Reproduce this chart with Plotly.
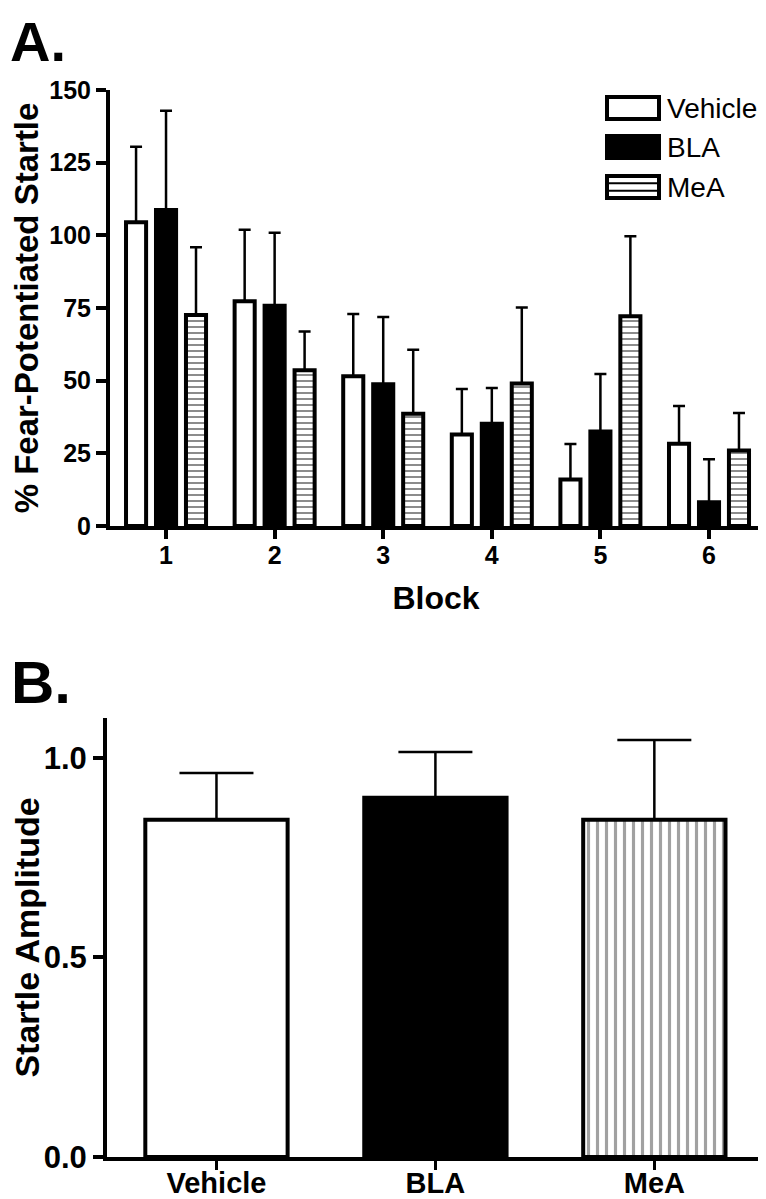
import plotly.graph_objects as go

# ---------------- data ----------------
blocks = [1, 2, 3, 4, 5, 6]
vehicle_mean = [104.5, 77.3, 51.5, 31.5, 16.0, 28.3]
vehicle_sem = [26.0, 24.6, 21.4, 15.6, 12.2, 13.0]
bla_mean = [108.7, 75.8, 48.8, 35.2, 32.5, 8.2]
bla_sem = [34.2, 25.1, 23.1, 12.3, 19.8, 14.8]
mea_mean = [72.6, 53.6, 38.6, 49.0, 72.2, 26.0]
mea_sem = [23.3, 13.3, 22.0, 26.2, 27.5, 12.9]

groups_b = ["Vehicle", "BLA", "MeA"]
startle_mean = [0.845, 0.90, 0.845]
startle_sem = [0.117, 0.115, 0.20]

a_yticks = [0, 25, 50, 75, 100, 125, 150]
b_yticks = [0.0, 0.5, 1.0]
legend_names = ["Vehicle", "BLA", "MeA"]

FONT = "Liberation Sans, Arial, sans-serif"
OFF = 8                      # page body margin
W, H = 766 - OFF, 1199 - OFF


def px(x):
    return (x - OFF) / W


def py(y):
    return 1 - (y - OFF) / H


def err(arr, n):
    return dict(type="data", array=arr, arrayminus=[0] * n, symmetric=False,
                color="black", thickness=2.5, width=6)


fig = go.Figure()
fig.add_trace(go.Bar(x=blocks, y=vehicle_mean, name="Vehicle",
                     marker=dict(color="white", line=dict(color="black", width=4)),
                     error_y=err(vehicle_sem, 6), xaxis="x", yaxis="y"))
fig.add_trace(go.Bar(x=blocks, y=bla_mean, name="BLA",
                     marker=dict(color="black", line=dict(color="black", width=4)),
                     error_y=err(bla_sem, 6), xaxis="x", yaxis="y"))
fig.add_trace(go.Bar(x=blocks, y=mea_mean, name="MeA",
                     marker=dict(color="white", line=dict(color="black", width=4),
                                 pattern=dict(shape="-", size=6, solidity=0.3,
                                              fgcolor="black", bgcolor="white")),
                     error_y=err(mea_sem, 6), xaxis="x", yaxis="y"))

fig.add_trace(go.Bar(x=groups_b, y=startle_mean, width=0.65,
                     marker=dict(color=["white", "black", "white"],
                                 line=dict(color="black", width=4),
                                 pattern=dict(shape=["", "", "|"], size=9, solidity=0.35,
                                              fgcolor="black", bgcolor="white")),
                     error_y=dict(type="data", array=startle_sem, arrayminus=[0] * 3,
                                  symmetric=False, color="black", thickness=2.5, width=37),
                     xaxis="x2", yaxis="y2"))

axis_common = dict(showgrid=False, zeroline=False, showline=True, linecolor="black",
                   linewidth=4, ticks="outside", tickcolor="black", automargin=False)

fig.update_layout(
    width=W, height=H,
    margin=dict(l=0, r=0, t=0, b=0),
    paper_bgcolor="white", plot_bgcolor="white",
    showlegend=False,
    barmode="group", bargap=0.172, bargroupgap=0.33,
    font=dict(family=FONT, color="black"),
    xaxis=dict(axis_common, domain=[px(110), px(762)], range=[0.484, 6.488],
               tickvals=blocks, ticklen=9, tickwidth=4, anchor="y",
               ticklabelstandoff=-5,
               tickfont=dict(size=25, weight="bold"),
               title=dict(text="Block", font=dict(size=32, weight="bold"), standoff=20)),
    yaxis=dict(axis_common, domain=[py(526), py(90)], range=[0, 150],
               tickvals=a_yticks, ticklen=10, tickwidth=4, anchor="x",
               tickfont=dict(size=25, weight="bold"),
               title=dict(text="% Fear-Potentiated Startle",
                          font=dict(size=33, weight="bold"), standoff=12)),
    xaxis2=dict(axis_common, domain=[px(107), 1.0], range=[-0.5, 2.51],
                ticklen=9, tickwidth=3, anchor="y2",
                ticklabelstandoff=-12,
                tickfont=dict(size=29, weight="bold")),
    yaxis2=dict(axis_common, domain=[py(1157), py(718)], range=[0, 1.1],
                tickvals=b_yticks, tickformat=".1f", ticklen=10, tickwidth=3.5, anchor="x2",
                tickfont=dict(size=31, weight="bold"),
                title=dict(text="Startle Amplitude",
                           font=dict(size=34, weight="bold"), standoff=11)),
)

# panel labels
fig.add_annotation(x=px(8), y=1.0, xref="paper", yref="paper", text="A.",
                   showarrow=False, xanchor="left", yanchor="top",
                   font=dict(size=56, weight="bold", family=FONT))
fig.add_annotation(x=px(9), y=py(682), xref="paper", yref="paper", text="B.",
                   showarrow=False, xanchor="left", yanchor="middle",
                   font=dict(size=60, weight="bold", family=FONT))

# custom legend (boxes + labels)
row_centers = [108, 147, 187]
fills = ["white", "black", "white"]
for name, cy, fill in zip(legend_names, row_centers, fills):
    fig.add_shape(type="rect", xref="paper", yref="paper",
                  x0=px(607), x1=px(659), y0=py(cy + 11), y1=py(cy - 11),
                  line=dict(color="black", width=4), fillcolor=fill)
    fig.add_annotation(x=px(665), y=py(cy), xref="paper", yref="paper", text=name,
                       showarrow=False, xanchor="left", yanchor="middle",
                       font=dict(size=28, family=FONT))
# stripes in the MeA legend box
cy = row_centers[2]
for dy in (-3.7, 3.7):
    fig.add_shape(type="line", xref="paper", yref="paper",
                  x0=px(607), x1=px(659), y0=py(cy + dy), y1=py(cy + dy),
                  line=dict(color="black", width=2))

fig.write_html("out.html")
